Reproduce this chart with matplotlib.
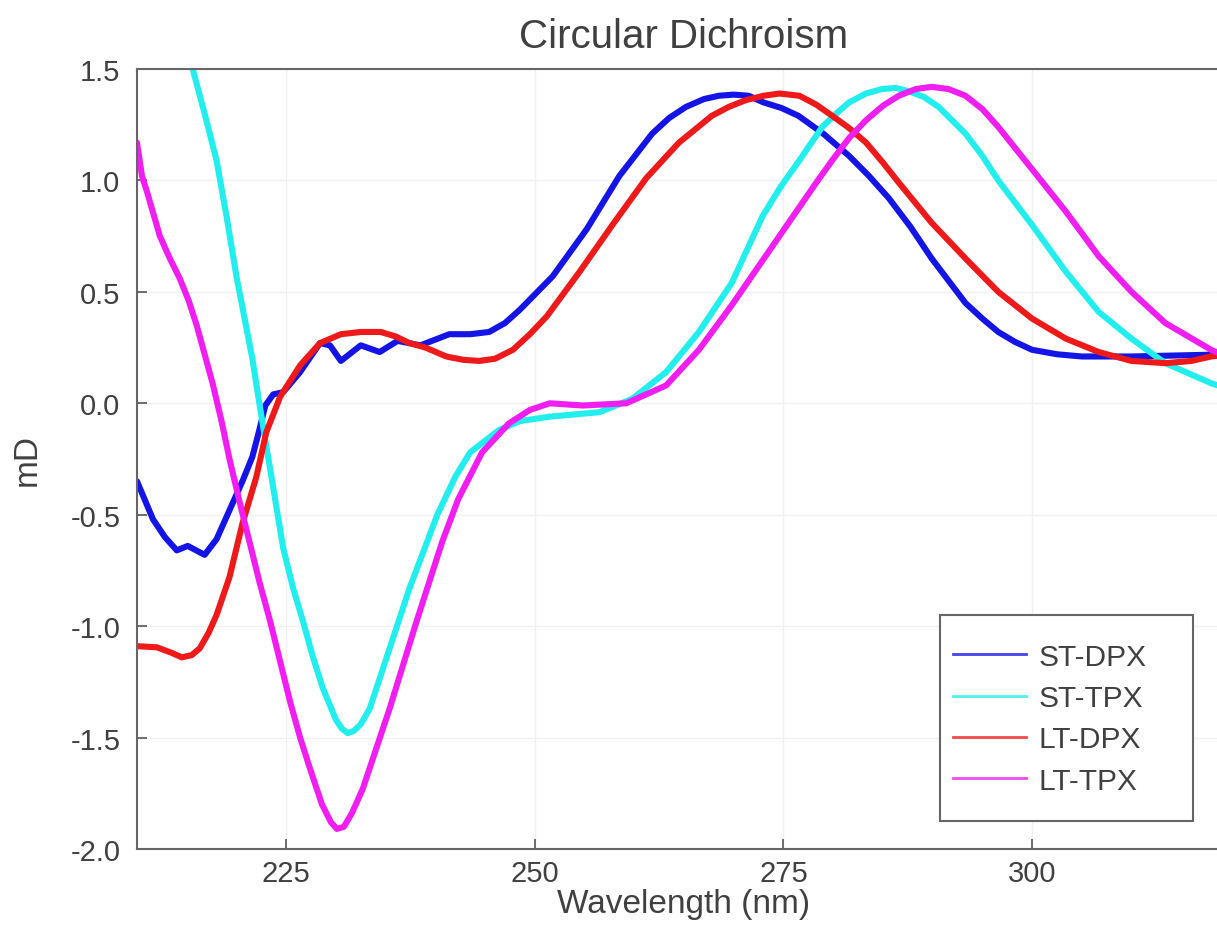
import matplotlib
matplotlib.use("Agg")
import matplotlib.pyplot as plt
from matplotlib.lines import Line2D
from matplotlib.patches import Rectangle

plt.rcParams['font.family'] = ['Liberation Sans', 'DejaVu Sans']
plt.rcParams['axes.unicode_minus'] = False

# ST-DPX
st_dpx_x = [210, 211.6, 212.8, 214, 215.1, 216.8, 218, 219.3, 220.6, 221.6, 222.3, 222.9,
            223.7, 224.7, 226.4, 228.4, 229.4, 230.5, 232.5, 234.4, 236.2, 238.5, 241.4,
            243.5, 245.4, 247, 248.5, 251.8, 255.2, 258.5, 261.8, 263.5, 265.2, 267, 268.5,
            270, 271.5, 273, 274.8, 276.5, 279, 281.6, 283.6, 285.6, 287.8, 289.9, 291.6,
            293.3, 295, 296.6, 298.3, 300, 302.5, 305, 310, 315, 320]
st_dpx_y = [-0.35, -0.52, -0.60, -0.66, -0.64, -0.68, -0.61, -0.48, -0.35, -0.24, -0.12, -0.01,
            0.04, 0.05, 0.14, 0.27, 0.26, 0.19, 0.26, 0.23, 0.28, 0.26, 0.31,
            0.31, 0.32, 0.36, 0.42, 0.57, 0.78, 1.02, 1.21, 1.28, 1.33, 1.365, 1.38,
            1.385, 1.38, 1.35, 1.325, 1.29, 1.21, 1.11, 1.02, 0.92, 0.79, 0.65, 0.55,
            0.45, 0.38, 0.32, 0.275, 0.24, 0.22, 0.21, 0.21, 0.215, 0.22]

# ST-TPX
st_tpx_x = [212, 214, 215.6, 216.8, 218, 219, 220, 221.6, 222.3, 223, 224.7, 225.7, 226.7,
            227.7, 228.7, 230, 230.6, 231.2, 231.8, 232.5, 233.4, 235.4, 237.4, 240.2, 242,
            243.5, 246.4, 248.5, 251.5, 256.5, 259.8, 263.2, 266.5, 269.8, 272.9, 274.7,
            276.6, 278.9, 280.3, 281.6, 283.3, 284.9, 286.3, 287.6, 289.1, 290.6, 293.3, 295,
            296.6, 300, 303.4, 306.7, 310, 313.4, 318, 320]
st_tpx_y = [2.1, 1.78, 1.50, 1.30, 1.09, 0.84, 0.57, 0.20, 0.0, -0.19, -0.65, -0.83, -0.98,
            -1.14, -1.28, -1.42, -1.46, -1.48, -1.47, -1.44, -1.37, -1.10, -0.83, -0.50, -0.33,
            -0.22, -0.12, -0.08, -0.06, -0.04, 0.02, 0.14, 0.32, 0.54, 0.84, 0.97,
            1.09, 1.24, 1.30, 1.35, 1.39, 1.41, 1.415, 1.40, 1.375, 1.33, 1.21, 1.11,
            1.00, 0.80, 0.59, 0.41, 0.29, 0.18, 0.09, 0.06]

# LT-DPX
lt_dpx_x = [210, 212, 213.5, 214.5, 215.5, 216.3, 217.2, 218, 219.3, 220.6, 222, 223, 224.4,
            226.4, 228.4, 230.5, 232.5, 234.5, 236, 237.4, 239, 241.1, 242.8, 244.4, 246, 247.8,
            249.5, 251.2, 254.5, 257.8, 261.2, 264.5, 267.8, 269.5, 271.2, 273, 274.6, 276.6,
            278.3, 279.9, 281.6, 283.3, 285, 286.6, 289.9, 293.3, 296.6, 300, 303.4, 306.7,
            310, 313.4, 316, 318, 320]
lt_dpx_y = [-1.09, -1.095, -1.12, -1.14, -1.13, -1.10, -1.03, -0.95, -0.78, -0.54, -0.33, -0.13, 0.03,
            0.17, 0.27, 0.31, 0.32, 0.32, 0.30, 0.27, 0.25, 0.21, 0.195, 0.19, 0.20, 0.24,
            0.31, 0.39, 0.59, 0.80, 1.01, 1.17, 1.29, 1.33, 1.36, 1.38, 1.39, 1.38,
            1.34, 1.29, 1.235, 1.17, 1.08, 0.99, 0.81, 0.65, 0.50, 0.38, 0.29, 0.23,
            0.19, 0.18, 0.19, 0.21, 0.22]

# LT-TPX
lt_tpx_x = [210, 210.5, 211, 212.3, 213.3, 214.3, 215.2, 216, 217.6, 218.5, 219.3, 220.3, 221.3,
            222.3, 223.4, 224.4, 225.4, 226.4, 227.4, 228.6, 229.5, 230.1, 230.8, 231.6, 232.7,
            235.4, 238.1, 240.7, 242.3, 244.7, 247.4, 249.5, 251.5, 254.8, 259.2, 263.2, 266.5,
            269.8, 273.2, 276.6, 278.3, 279.9, 281.6, 283.3, 285, 286.6, 288.3, 289.9, 291.6,
            293.3, 295, 296.6, 300, 303.4, 306.7, 310, 313.4, 318, 320]
lt_tpx_y = [1.17, 1.02, 0.95, 0.75, 0.65, 0.56, 0.46, 0.35, 0.09, -0.08, -0.25, -0.44, -0.62,
            -0.80, -0.98, -1.16, -1.34, -1.50, -1.64, -1.80, -1.88, -1.91, -1.90, -1.84, -1.73,
            -1.37, -0.98, -0.62, -0.43, -0.22, -0.09, -0.03, 0.0, -0.01, 0.0, 0.08, 0.24,
            0.44, 0.66, 0.88, 0.99, 1.09, 1.19, 1.27, 1.335, 1.38, 1.41, 1.42, 1.41,
            1.38, 1.32, 1.24, 1.05, 0.86, 0.66, 0.50, 0.36, 0.24, 0.20]

series = [
    ('ST-DPX', st_dpx_x, st_dpx_y, '#1414e6'),
    ('ST-TPX', st_tpx_x, st_tpx_y, '#22eeee'),
    ('LT-DPX', lt_dpx_x, lt_dpx_y, '#ee1a1a'),
    ('LT-TPX', lt_tpx_x, lt_tpx_y, '#f01ef0'),
]

x_ticks = [225, 250, 275, 300]
y_ticks = [-2.0, -1.5, -1.0, -0.5, 0.0, 0.5, 1.0, 1.5]

text_color = '#404040'
fig = plt.figure(figsize=(12.17, 9.37), dpi=100)
ax = fig.add_axes([137 / 1217, 87 / 937, 1094 / 1217, 780 / 937])

for name, xs, ys, c in series:
    ax.plot(xs, ys, color=c, lw=4.4, solid_joinstyle='round', solid_capstyle='round')

ax.set_xlim(210, 320)
ax.set_ylim(-2.0, 1.5)
ax.set_xticks(x_ticks)
ax.set_yticks(y_ticks)
ax.set_yticklabels(['%.1f' % v for v in y_ticks])
ax.grid(True, color='#f0f0f0', lw=1.0)
ax.set_axisbelow(True)
ax.tick_params(direction='in', length=7, width=1.2, color='#555555',
               labelsize=21, labelcolor=text_color, pad=12)
ax.tick_params(axis='x', pad=7)
for s in ax.spines.values():
    s.set_color('#666666')
    s.set_linewidth(1.5)

ax.set_title('Circular Dichroism', fontsize=29, color=text_color, pad=16)
ax.set_xlabel('Wavelength (nm)', fontsize=24, color=text_color, labelpad=1)
ax.set_ylabel('mD', fontsize=24, color=text_color, labelpad=20)

# legend frame drawn separately, content without frame
ax.add_patch(Rectangle((0.734, 0.036), 0.231, 0.264, transform=ax.transAxes,
                       facecolor='white', edgecolor='#666666', lw=1.5, zorder=5))
handles = [Line2D([], [], color=c, lw=2.0, alpha=0.8) for _, _, _, c in series]
leg = ax.legend(handles, [s[0] for s in series], loc='center left',
                bbox_to_anchor=(0.746, 0.167), frameon=False, fontsize=21.5,
                handlelength=2.45, handletextpad=0.4, labelspacing=0.45,
                borderpad=0, borderaxespad=0)
leg.set_zorder(6)
for t in leg.get_texts():
    t.set_color(text_color)

fig.savefig('out.png', dpi=100)
